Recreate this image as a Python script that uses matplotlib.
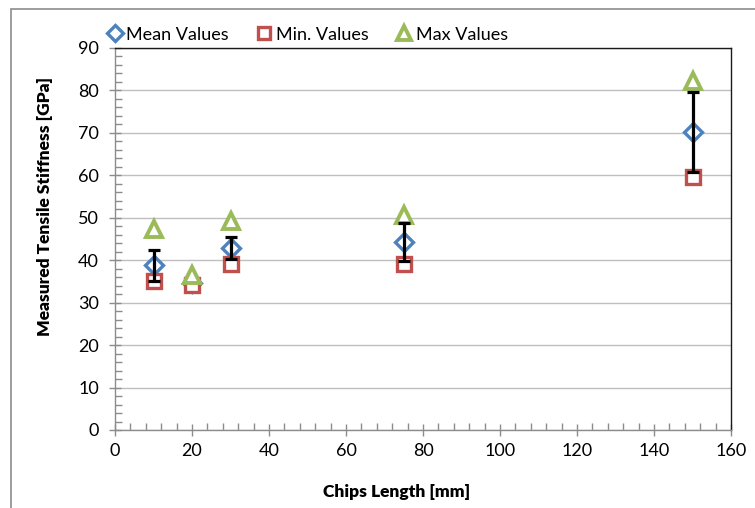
import matplotlib
matplotlib.use("Agg")
import matplotlib.pyplot as plt
import numpy as np
from matplotlib.patches import Rectangle
from matplotlib.ticker import MultipleLocator

chips_length = [10, 20, 30, 75, 150]
mean_values = [38.8, 34.6, 42.9, 44.2, 70.3]
min_values = [35.0, 34.2, 39.1, 39.2, 59.6]
max_values = [47.4, 36.6, 49.2, 50.7, 82.3]
error_values = [3.6, np.nan, 2.5, 4.5, 9.4]

x_label = "Chips Length [mm]"
y_label = "Measured Tensile Stiffness [GPa]"

plt.rcParams['font.family'] = ['Lato', 'DejaVu Sans']

fig = plt.figure(figsize=(7.55, 5.08), dpi=100)
ax = fig.add_axes([115/755, 1-430/508, (731-115)/755, (430-48)/508])

# outer chart frame
fig.patches.append(Rectangle((11/755, -0.1), 1.0, 1-9/508+0.1, transform=fig.transFigure,
                             fill=False, edgecolor='#8c8c8c', linewidth=1.2, clip_on=False))

blue = '#4F81BD'
red = '#C0504D'
green = '#9BBB59'

ax.plot(chips_length, mean_values, linestyle='none', marker='D', markersize=9,
        markerfacecolor='white', markeredgecolor=blue, markeredgewidth=2.4,
        label='Mean Values', zorder=3)
ax.plot(chips_length, min_values, linestyle='none', marker='s', markersize=10.5,
        markerfacecolor='white', markeredgecolor=red, markeredgewidth=2.4,
        label='Min. Values', zorder=3)
ax.plot(chips_length, max_values, linestyle='none', marker='^', markersize=11.5,
        markerfacecolor='white', markeredgecolor=green, markeredgewidth=2.8,
        label='Max Values', zorder=3)
ax.errorbar(chips_length, mean_values, yerr=error_values, fmt='none', ecolor='black',
            elinewidth=2.3, capsize=4, capthick=2.3, zorder=4)

ax.set_xlim(0, 160)
ax.set_ylim(0, 90)
ax.xaxis.set_major_locator(MultipleLocator(20))
ax.xaxis.set_minor_locator(MultipleLocator(4))
ax.yaxis.set_major_locator(MultipleLocator(10))
ax.yaxis.set_minor_locator(MultipleLocator(2))

ax.grid(axis='y', which='major', color='#bfbfbf', linewidth=1.0, zorder=0)
ax.set_axisbelow(True)

for s in ['left', 'bottom']:
    ax.spines[s].set_color('#8c8c8c')
    ax.spines[s].set_linewidth(1.0)
for s in ['right', 'top']:
    ax.spines[s].set_color('#1a1a1a')
    ax.spines[s].set_linewidth(1.0)

ax.tick_params(axis='both', which='major', direction='inout', length=9, width=1,
               color='#8c8c8c', labelsize=13, labelcolor='black')
ax.tick_params(axis='both', which='minor', direction='in', length=5, width=1,
               color='#8c8c8c')
ax.tick_params(axis='x', which='major', pad=5)
ax.tick_params(axis='y', which='major', pad=7)

ax.set_xlabel(x_label, fontsize=12.5, fontweight='heavy', va='center')
ax.set_ylabel(y_label, fontsize=12.5, fontweight='heavy', va='center')
ax.xaxis.set_label_coords((397-115)/616, (430-492)/382)
ax.yaxis.set_label_coords((45-115)/616, (430-206)/382)

leg = ax.legend(loc='lower left', bbox_to_anchor=(-0.03, 0.995), ncol=3, frameon=False,
                fontsize=13, handletextpad=0.05, columnspacing=1.35, borderaxespad=0.0,
                handlelength=1.2, markerscale=0.85)

fig.savefig('out.png', dpi=100)
